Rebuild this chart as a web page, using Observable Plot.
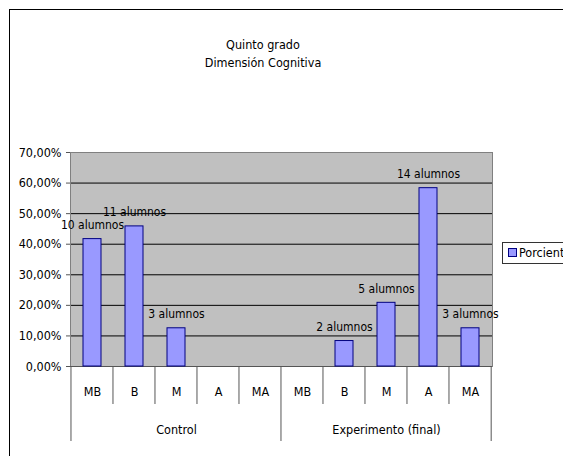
<!DOCTYPE html>
<html>
<head>
<meta charset="utf-8">
<script src="https://cdn.jsdelivr.net/npm/d3@7"></script>
<script src="https://cdn.jsdelivr.net/npm/@observablehq/plot@0.6"></script>
<style>
  html, body { margin: 0; padding: 0; background: #fff; overflow: hidden; }
  body { color: #000; }
  #wrap { position: relative; width: 563px; height: 456px; overflow: hidden; }
  #frame { position: absolute; left: 9px; top: 9px; width: 600px; height: 500px; border: 1px solid #000; box-sizing: border-box; }
  #title { position: absolute; left: 163px; top: 36px; width: 200px; text-align: center; line-height: 18px; }
  #chart { position: absolute; left: 0; top: 140px; }
  #legend { position: absolute; left: 502px; top: 242px; width: 100px; height: 22px; border: 1px solid #333; box-sizing: border-box; line-height: 20px; padding-left: 5px; white-space: nowrap; }
  #legend .sw { display: inline-block; width: 7px; height: 7px; background: #9999ff; border: 1px solid #000080; margin-right: 2px; vertical-align: 0px; }
  #probe { position: absolute; left: 0; top: 0; visibility: hidden; white-space: nowrap; font-size: 20px; }
</style>
</head>
<body>
<div id="wrap">
  <div id="frame"></div>
  <div id="title">Quinto grado<br>Dimensión Cognitiva</div>
  <div id="chart"></div>
  <div id="legend"><span class="sw"></span>Porciento</div>
</div>
<span id="probe">10 alumnos Dimensión</span>
<script>
const groups = ["Control", "Experimento (final)"];
const categories = ["MB", "B", "M", "A", "MA"];
const controlPct = [41.67, 45.83, 12.5, 0, 0];
const experimentPct = [0, 8.33, 20.83, 58.33, 12.5];
const controlCounts = [10, 11, 3, 0, 0];
const experimentCounts = [0, 2, 5, 14, 3];
const yTicks = [0, 10, 20, 30, 40, 50, 60, 70];

// pick a condensed font that is installed
const probe = document.getElementById("probe");
function w(fam, stretch) { probe.style.fontFamily = fam; probe.style.fontStretch = stretch || "normal"; return probe.offsetWidth; }
const mono = w("monospace");
let fontFamily, fontStretch = "normal", fs = 13, tfs = 13;
if (w('"Liberation Sans Narrow", monospace') !== mono) {
  fontFamily = '"Liberation Sans Narrow", sans-serif'; fs = 13; tfs = 13;
} else if (w('"DejaVu Sans"', "condensed") < w('"DejaVu Sans"', "normal") - 2) {
  fontFamily = '"DejaVu Sans", sans-serif'; fontStretch = "condensed"; fs = 12; tfs = 12.5;
} else {
  fontFamily = '"Liberation Sans", Arial, sans-serif'; fs = 12; tfs = 12.5;
}
probe.remove();
document.body.style.fontFamily = fontFamily;
document.body.style.fontStretch = fontStretch;
document.getElementById("title").style.fontSize = tfs + "px";
document.getElementById("legend").style.fontSize = tfs + "px";

const rows = [];
groups.forEach((g, gi) => {
  categories.forEach((c, ci) => {
    rows.push({
      key: g + "|" + c,
      group: g,
      cat: c,
      value: gi === 0 ? controlPct[ci] : experimentPct[ci],
      count: gi === 0 ? controlCounts[ci] : experimentCounts[ci]
    });
  });
});
const keys = rows.map(d => d.key);
const padInner = 0.57;

const axisLines = (index, scales, values, dims) => {
  const g = d3.create("svg:g");
  const step = (dims.width - dims.marginLeft - dims.marginRight) / keys.length;
  const y0 = dims.height - dims.marginBottom;
  const edges = keys.map(k => scales.x(k) - step * padInner / 2);
  edges.push(edges[edges.length - 1] + step);
  edges.forEach((xe, i) => {
    const isGroup = i % categories.length === 0;
    g.append("line")
      .attr("x1", xe).attr("x2", xe)
      .attr("y1", y0).attr("y2", y0 + (isGroup ? 75 : 38))
      .attr("stroke", "#555").attr("stroke-width", 1);
  });
  return g.node();
};

const chart = Plot.plot({
  width: 563,
  height: 316,
  marginLeft: 70,
  marginRight: 71,
  marginTop: 12,
  marginBottom: 90,
  style: { fontFamily, fontStretch, fontSize: fs + "px", background: "transparent", color: "#000", overflow: "visible" },
  x: { domain: keys, paddingInner: padInner, paddingOuter: padInner / 2, axis: null },
  y: { domain: [0, 70], axis: null },
  marks: [
    Plot.frame({ fill: "#c0c0c0", stroke: null }),
    Plot.ruleY(yTicks.filter(v => v > 0 && v < 70), { stroke: "#000", strokeWidth: 1 }),
    Plot.frame({ stroke: "#808080" }),
    Plot.ruleY([0], { stroke: "#555" }),
    Plot.barY(rows.filter(d => d.value > 0), { x: "key", y: "value", fill: "#9999ff", stroke: "#000080", strokeWidth: 1 }),
    Plot.text(rows.filter(d => d.count > 0), { x: "key", y: "value", text: d => d.count + " alumnos", dy: -14, fontSize: fs, fill: "#000" }),
    Plot.axisY({ ticks: yTicks, label: null, tickFormat: d => d.toFixed(2).replace(".", ",") + "%", tickSize: 4, tickPadding: 5, fontSize: tfs, stroke: "#555" }),
    Plot.text(rows, { x: "key", text: "cat", frameAnchor: "bottom", dy: 29, fontSize: tfs, fill: "#000" }),
    Plot.text(rows.filter(d => d.cat === "M"), { x: "key", text: "group", frameAnchor: "bottom", dy: 67, fontSize: tfs, fill: "#000" }),
    axisLines
  ]
});
document.getElementById("chart").appendChild(chart);
</script>
</body>
</html>
